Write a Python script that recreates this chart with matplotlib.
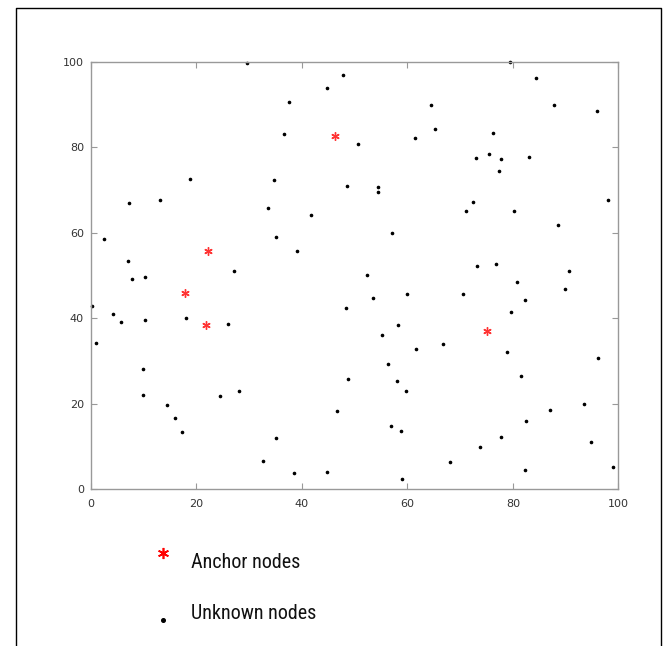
# Node layout: anchor nodes (red *) and unknown nodes (black dots)
import matplotlib.pyplot as plt
from matplotlib.lines import Line2D

# anchor nodes
anchor_x = [46.2, 22.2, 17.9, 21.8, 75.1]
anchor_y = [82.7, 55.8, 46.0, 38.3, 37.0]

# unknown nodes
unknown_x = [29.6, 47.8, 44.7, 37.6, 36.5, 18.7, 34.7, 48.5, 7.3, 13.1,
             33.5, 41.8, 2.4, 35.1, 39.1, 7.1, 27.1, 79.4, 84.4, 64.5,
             87.8, 95.9, 65.2, 61.4, 76.3, 50.6, 72.9, 75.5, 77.8, 83.1,
             77.3, 54.4, 54.4, 72.4, 71.0, 80.1, 98.1, 57.1, 88.6, 73.1,
             76.8, 90.6, 52.3, 7.8, 10.2, 0.1, 4.2, 5.7, 10.2, 18.0,
             25.9, 48.3, 0.9, 9.9, 48.7, 9.8, 14.4, 16.0, 17.3, 24.5,
             28.1, 35.1, 32.7, 38.5, 44.7, 46.6, 80.8, 89.9, 53.5, 60.0,
             70.6, 82.3, 79.7, 58.2, 55.1, 61.7, 66.8, 78.9, 96.1, 56.4,
             58.0, 59.8, 81.6, 87.0, 93.4, 82.4, 56.9, 58.8, 77.8, 73.8,
             94.7, 68.1, 82.3, 98.9, 58.9]
unknown_y = [99.7, 96.9, 94.0, 90.6, 83.1, 72.5, 72.4, 71.0, 67.1, 67.7,
             65.8, 64.2, 58.6, 59.0, 55.7, 53.4, 51.1, 99.9, 96.3, 89.9,
             89.9, 88.5, 84.2, 82.1, 83.4, 80.8, 77.5, 78.5, 77.4, 77.7,
             74.4, 70.7, 69.6, 67.3, 65.0, 65.1, 67.8, 60.0, 61.8, 52.3,
             52.7, 51.0, 50.1, 49.1, 49.6, 42.8, 41.1, 39.2, 39.6, 40.0,
             38.6, 42.4, 34.2, 28.0, 25.8, 22.0, 19.7, 16.7, 13.3, 21.7,
             22.9, 12.0, 6.6, 3.7, 4.1, 18.2, 48.5, 46.8, 44.7, 45.7,
             45.7, 44.2, 41.4, 38.3, 36.0, 32.8, 33.9, 32.2, 30.6, 29.3,
             25.4, 23.0, 26.5, 18.5, 20.0, 16.0, 14.8, 13.6, 12.2, 9.9,
             11.1, 6.3, 4.4, 5.2, 2.4]

ticks = [0, 20, 40, 60, 80, 100]
legend_labels = ["Anchor nodes", "Unknown nodes"]

fig = plt.figure(figsize=(6.70, 6.46), dpi=100)
ax = fig.add_axes([0.1358, 0.2430, 0.7873, 0.6610])

ax.plot(unknown_x, unknown_y, linestyle='none', marker='o',
        markersize=1.6, color='black', clip_on=False)
ax.plot(anchor_x, anchor_y, linestyle='none', marker=(6, 2, 0),
        markersize=6, color='red', markeredgewidth=1.0, alpha=0.8,
        clip_on=False)

ax.set_xlim(0, 100)
ax.set_ylim(0, 100)
ax.set_xticks(ticks)
ax.set_yticks(ticks)
ax.tick_params(direction='in', length=4, width=0.8, color='#999999',
               labelsize=8, labelcolor='#333333', top=True, right=True)
ax.tick_params(axis='x', pad=7)
ax.tick_params(axis='y', pad=5)
for s in ax.spines.values():
    s.set_color('#999999')
    s.set_linewidth(1.0)

# legend drawn by hand below the axes (pixel positions -> figure coords)
W, H = 670, 646
lf = ['Roboto Condensed', 'Liberation Sans']
fig.add_artist(Line2D([163 / W], [1 - 553 / H], marker=(6, 2, 0),
                      markersize=8, color='red', markeredgewidth=1.2,
                      linestyle='none'))
fig.text(191 / W, 1 - 568 / H, legend_labels[0], fontsize=14.5,
         family=lf, ha='left', va='baseline', color='#111111')
fig.add_artist(Line2D([163 / W], [1 - 620 / H], marker='o',
                      markersize=2.6, color='black', linestyle='none'))
fig.text(191 / W, 1 - 619 / H, legend_labels[1], fontsize=14.5,
         family=lf, ha='left', va='baseline', color='#111111')

# outer frame
xl, xr = 16 / W, 661 / W
yt = 1 - 8 / H
fig.add_artist(Line2D([xl, xl, xr, xr], [0, yt, yt, 0],
                      color='black', linewidth=1.0))

fig.savefig('out.png', dpi=100)
